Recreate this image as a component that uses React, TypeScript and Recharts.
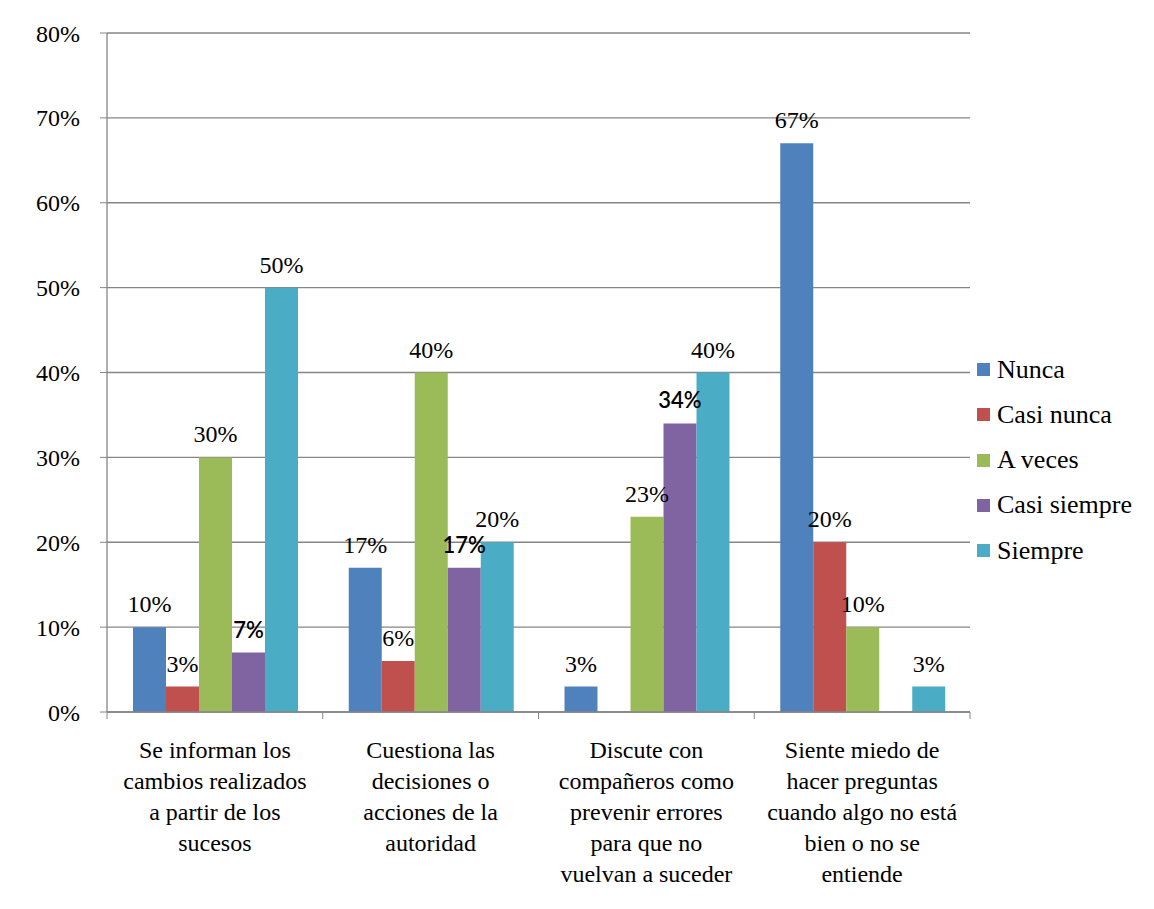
import React from "react";
import {
  BarChart,
  Bar,
  XAxis,
  YAxis,
  CartesianGrid,
  LabelList,
} from "recharts";

// category labels, already broken into lines as in the source chart
const categoryLines = [
  ["Se informan los", "cambios realizados", "a partir de los", "sucesos"],
  ["Cuestiona las", "decisiones o", "acciones de la", "autoridad"],
  ["Discute con", "compañeros como", "prevenir errores", "para que no", "vuelvan a suceder"],
  ["Siente miedo de", "hacer preguntas", "cuando algo no está", "bien o no se", "entiende"],
];

const nunca = [10, 17, 3, 67];
const casiNunca = [3, 6, null, 20];
const aVeces = [30, 40, 23, 10];
const casiSiempre = [7, 17, 34, null];
const siempre = [50, 20, 40, 3];

const yTicks = [0, 10, 20, 30, 40, 50, 60, 70, 80];

const series = [
  { key: "nunca", name: "Nunca", color: "#4F81BD", values: nunca, sans: false },
  { key: "casiNunca", name: "Casi nunca", color: "#C0504D", values: casiNunca, sans: false },
  { key: "aVeces", name: "A veces", color: "#9BBB59", values: aVeces, sans: false },
  { key: "casiSiempre", name: "Casi siempre", color: "#8064A2", values: casiSiempre, sans: true },
  { key: "siempre", name: "Siempre", color: "#4BACC6", values: siempre, sans: false },
];

const data = categoryLines.map((lines, i) => {
  const row: Record<string, any> = { name: lines.join(" "), idx: i };
  series.forEach((s) => {
    row[s.key] = s.values[i];
  });
  return row;
});

const W = 1154;
const H = 909;
const LEFT = 107;
const RIGHT = 184;
const TOP = 33;
const X_AXIS_H = 197;
const PLOT_BOTTOM = H - X_AXIS_H;
const BAND = (W - LEFT - RIGHT) / categoryLines.length;
const SERIF = '"Liberation Serif", "Times New Roman", "DejaVu Serif", serif';
const SANS = 'Lato, "Liberation Sans", sans-serif';
const GRID = "#868686";

function CategoryTick(props: any) {
  const { payload, index } = props;
  const x = payload.coordinate;
  const lines = categoryLines[index] || [];
  return (
    <g>
      <line x1={x - BAND / 2} x2={x - BAND / 2} y1={PLOT_BOTTOM} y2={PLOT_BOTTOM + 7} stroke={GRID} />
      {index === categoryLines.length - 1 && (
        <line x1={x + BAND / 2} x2={x + BAND / 2} y1={PLOT_BOTTOM} y2={PLOT_BOTTOM + 7} stroke={GRID} />
      )}
      <text x={x} y={PLOT_BOTTOM + 46} textAnchor="middle" style={{ fontFamily: SERIF }} fontSize={24} fill="#000">
        {lines.map((l, i) => (
          <tspan key={i} x={x} dy={i === 0 ? 0 : 31}>
            {l}
          </tspan>
        ))}
      </text>
    </g>
  );
}

function makeLabel(sans: boolean) {
  return (props: any) => {
    const { x, y, width, value } = props;
    if (value == null) return null;
    return (
      <text
        x={x + width / 2}
        y={y - 15}
        textAnchor="middle"
        style={{ fontFamily: sans ? SANS : SERIF }}
        fontWeight={sans ? 600 : 400}
        fontSize={sans ? 22 : 24}
        fill="#000"
      >
        {value}%
      </text>
    );
  };
}

export default function App() {
  return (
    <div style={{ margin: -8, position: "relative", width: W, height: H, overflow: "hidden", background: "#fff", fontFamily: SERIF }}>
      <div
        style={{
          position: "absolute",
          left: 4,
          top: 4,
          width: W + 20,
          height: H + 20,
          borderTop: "2px solid #8a8a8a",
          borderLeft: "2px solid #8a8a8a",
        }}
      />
      <BarChart
        width={W}
        height={H}
        data={data}
        margin={{ top: TOP, right: RIGHT, bottom: 0, left: 0 }}
        barCategoryGap={26}
        barGap={0}
        style={{ position: "absolute", left: 0, top: 0, fontFamily: SERIF }}
      >
        <CartesianGrid vertical={false} stroke={GRID} strokeWidth={1.3} />
        <XAxis
          dataKey="name"
          height={X_AXIS_H}
          interval={0}
          tickLine={false}
          axisLine={{ stroke: GRID, strokeWidth: 1.3 }}
          tick={<CategoryTick />}
        />
        <YAxis
          width={LEFT}
          domain={[0, 80]}
          ticks={yTicks}
          interval={0}
          tickSize={7}
          tickMargin={20}
          tickFormatter={(v) => `${v}%`}
          axisLine={{ stroke: GRID, strokeWidth: 1.3 }}
          tickLine={{ stroke: GRID }}
          tick={{ fill: "#000", fontSize: 24, style: { fontFamily: SERIF } }}
        />
        {series.map((s) => (
          <Bar key={s.key} dataKey={s.key} name={s.name} fill={s.color} isAnimationActive={false}>
            <LabelList dataKey={s.key} content={makeLabel(s.sans)} />
          </Bar>
        ))}
      </BarChart>
      <div style={{ position: "absolute", left: 977, top: 347 }}>
        {series.map((s) => (
          <div key={s.key} style={{ display: "flex", alignItems: "center", height: 45.25 }}>
            <div style={{ width: 13, height: 13, background: s.color, marginRight: 7 }} />
            <span style={{ fontFamily: SERIF, fontSize: 26, color: "#000", whiteSpace: "nowrap" }}>{s.name}</span>
          </div>
        ))}
      </div>
    </div>
  );
}
